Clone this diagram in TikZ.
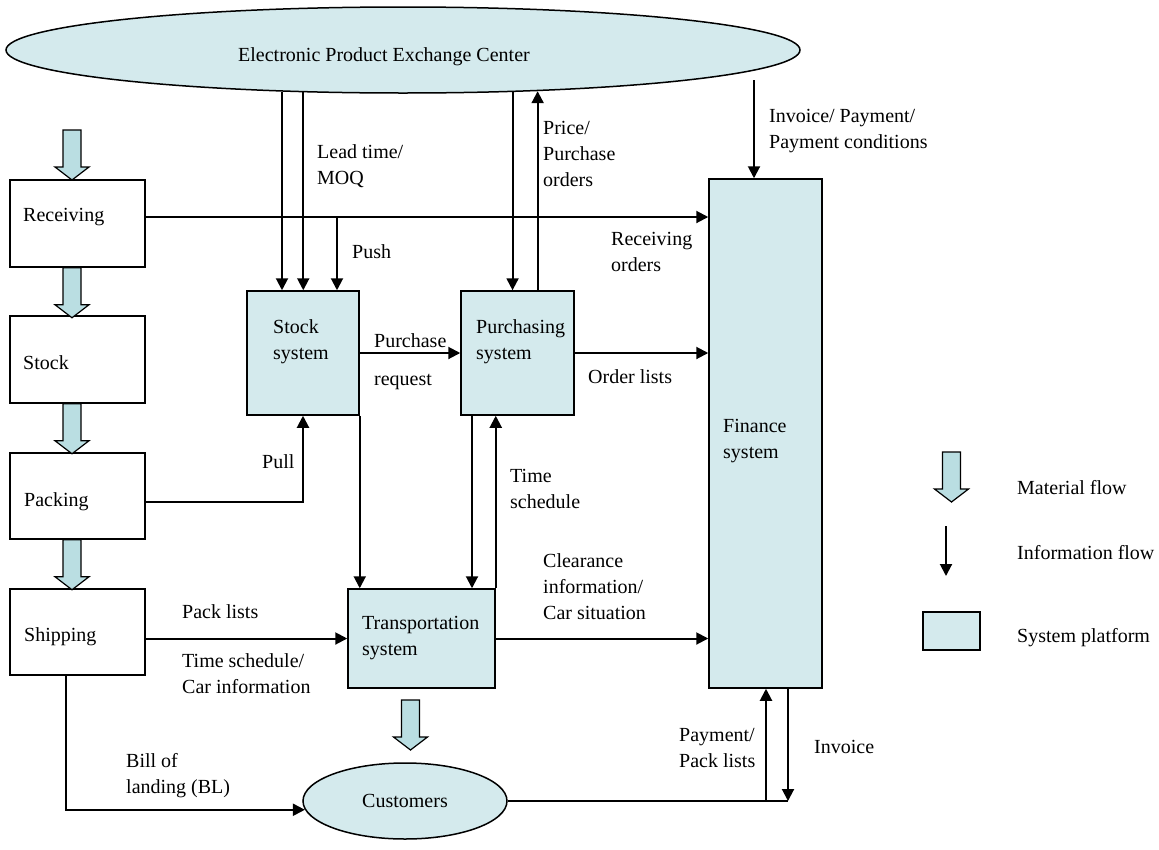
\documentclass[tikz,border=0pt]{standalone}
\usepackage{fontspec}
\setmainfont{Liberation Serif}
\usetikzlibrary{shapes.geometric,arrows.meta,calc}
\definecolor{sysfill}{RGB}{212,234,237}
\definecolor{matfill}{RGB}{186,222,226}
\begin{document}
\begin{tikzpicture}[x=1pt,y=-1pt,
  every node/.style={font=\fontsize{20}{26}\selectfont},
  sysbox/.style={draw, line width=1.5pt, fill=sysfill, rectangle, inner sep=0pt},
  procbox/.style={draw, line width=1.5pt, fill=white, rectangle, inner sep=0pt},
  % base west of a multi-line label is the baseline of its last line
  lbl/.style={anchor=base west, inner sep=0pt, align=left},
  info/.style={line width=2pt, -{Triangle[width=12pt,length=12pt]}},
  wire/.style={line width=2pt},
  matflow/.pic={\draw[line width=1.2pt, fill=matfill, line join=miter]
    (-9,0) -- (9,0) -- (9,37) -- (17,37) -- (0,50) -- (-17,37) -- (-9,37) -- cycle;}
]
\useasboundingbox (0,0) rectangle (1159,849);

% exchange centre and customers
\node[ellipse, draw, line width=1.5pt, fill=sysfill, inner sep=0pt,
      minimum width=794pt, minimum height=86pt] (exc) at (403,50) {};
\node[lbl] (exctxt) at (238,61) {Electronic Product Exchange Center};
\node[ellipse, draw, line width=1.5pt, fill=sysfill, inner sep=0pt,
      minimum width=204pt, minimum height=76pt] (cust) at (405,801) {Customers};

% material-flow process boxes
\node[procbox, minimum width=135pt, minimum height=87pt] (recv) at (77.5,223.5) {};
\node[procbox, minimum width=135pt, minimum height=87pt] (stk)  at (77.5,359.5) {};
\node[procbox, minimum width=135pt, minimum height=86pt] (pack) at (77.5,496) {};
\node[procbox, minimum width=135pt, minimum height=86pt] (ship) at (77.5,632) {};
\node[lbl] at (23,221) {Receiving};
\node[lbl] at (23,369) {Stock};
\node[lbl] at (24,506) {Packing};
\node[lbl] at (24,641) {Shipping};

% system platforms
\node[sysbox, minimum width=112pt, minimum height=124pt] (stock) at (303,353) {};
\node[sysbox, minimum width=113pt, minimum height=124pt] (purch) at (517.5,353) {};
\node[sysbox, minimum width=147pt, minimum height=99pt] (trans) at (421.5,638.5) {};
\node[sysbox, minimum width=113pt, minimum height=509pt] (fin) at (765.5,433.5) {};
\node[lbl] at (273,359) {Stock\\system};
\node[lbl] at (476,359) {Purchasing\\system};
\node[lbl] at (362,655) {Transportation\\system};
\node[lbl] at (723,458) {Finance\\system};

% helper positions for connector lanes
\coordinate (xm) at (72,0);
\coordinate (xb) at (303,0);
\coordinate (xpush) at (337,0);
\coordinate (xst) at (472,0);
\coordinate (xship) at (66,0);
\coordinate (xpay) at (766,0);
\coordinate (xinvo) at (788,0);
\coordinate (yrecv) at (0,217);
\coordinate (ypull) at (0,502);
\coordinate (invtop) at (754,80);

% information flows from the exchange centre
\draw[info] (exc.-161.47) -- (stock.north -| exc.-161.47);
\draw[info] (exc.-157.41) -- (stock.north -| exc.-157.41);
\draw[info] (exc.-21.95) -- (purch.north -| exc.-21.95);
\draw[info] (purch.north -| exc.-17.94) -- (exc.-17.94);
\draw[info] (invtop) -- (fin.north -| invtop);

% receiving orders and push
\draw[info] (recv.east |- yrecv) -- (fin.west |- yrecv);
\draw[info] (xpush |- yrecv) -- (stock.north -| xpush);

% system-to-system flows
\draw[info] (stock.east) -- (purch.west);
\draw[info] (purch.east) -- (fin.west |- purch.east);
\draw[info] (pack.east |- ypull) -| (stock.south -| xb);
\draw[info] (stock.south east) -- (trans.north -| stock.south east);
\draw[info] (purch.south -| xst) -- (trans.north -| xst);
\draw[info] (trans.north east) -- (purch.south -| trans.north east);
\draw[info] (ship.east |- trans.west) -- (trans.west);
\draw[info] (trans.east) -- (fin.west |- trans.east);
\draw[info] (ship.south -| xship) |- (cust.185.8);
\draw[wire] (cust.east) -- (cust.east -| xinvo);
\draw[info] (cust.east -| xpay) -- (fin.south -| xpay);
\draw[info] (fin.south -| xinvo) -- (cust.east -| xinvo);

% material flows
\pic at (72,130) {matflow};
\pic at (recv.south -| xm) {matflow};
\pic at (stk.south -| xm) {matflow};
\pic at (pack.south -| xm) {matflow};
\pic at (410.5,700) {matflow};

% connector labels
\node[lbl] at (317,184) {Lead time/\\MOQ};
\node[lbl] at (352,258) {Push};
\node[lbl] at (543,186) {Price/\\Purchase\\orders};
\node[lbl] at (769,148) {Invoice/ Payment/\\Payment conditions};
\node[lbl] at (611,271) {Receiving\\orders};
\node[lbl] at (374,347) {Purchase};
\node[lbl] at (374,385) {request};
\node[lbl] at (588,383) {Order lists};
\node[lbl] at (262,468) {Pull};
\node[lbl] at (510,508) {Time\\schedule};
\node[lbl] at (543,619) {Clearance\\information/\\Car situation};
\node[lbl] at (182,618) {Pack lists};
\node[lbl] at (182,693) {Time schedule/\\Car information};
\node[lbl] at (126,793) {Bill of\\landing (BL)};
\node[lbl] at (679,767) {Payment/\\Pack lists};
\node[lbl] at (814,753) {Invoice};

% legend
\pic at (951.5,452) {matflow};
\coordinate (lgA) at (946,526);
\coordinate (lgB) at (946,576);
\draw[info] (lgA) -- (lgB);
\node[sysbox, minimum width=57pt, minimum height=38pt] (lgbox) at (951.5,631) {};
\node[lbl] at (1017,494) {Material flow};
\node[lbl] at (1017,559) {Information flow};
\node[lbl] at (1017,642) {System platform};
\end{tikzpicture}
\end{document}
